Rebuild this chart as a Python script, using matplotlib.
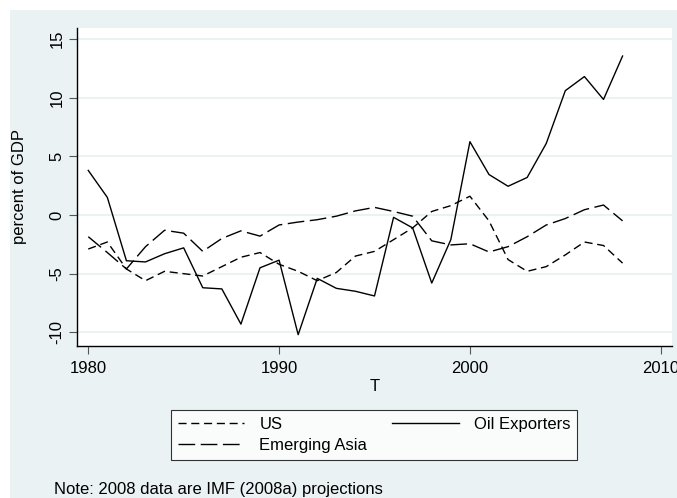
import matplotlib
matplotlib.use("Agg")
import matplotlib.pyplot as plt
import numpy as np

years = list(range(1980, 2009))

us = [-2.9, -2.3, -4.6, -5.6, -4.8, -5.0, -5.2, -4.4, -3.6, -3.2,
      -4.2, -4.8, -5.6, -4.9, -3.5, -3.1, -2.1, -1.1, 0.3, 0.8,
      1.6, -0.5, -3.8, -4.8, -4.4, -3.4, -2.3, -2.6, -4.1]

emerging_asia = [-1.85, -3.2, -4.6, -2.7, -1.3, -1.55, -3.1, -2.0, -1.35, -1.8,
                 -0.85, -0.6, -0.4, -0.1, 0.35, 0.65, 0.3, -0.1, -2.2, -2.55,
                 -2.45, -3.15, -2.7, -1.85, -0.85, -0.3, 0.45, 0.85, -0.5]

oil_exporters = [3.8, 1.5, -3.9, -4.0, -3.3, -2.8, -6.2, -6.3, -9.3, -4.5,
                 -3.85, -10.2, -5.4, -6.25, -6.5, -6.9, -0.2, -1.1, -5.8, -2.1,
                 6.25, 3.45, 2.45, 3.2, 6.1, 10.6, 11.8, 9.85, 13.55]

y_ticks = [-10, -5, 0, 5, 10, 15]
x_ticks = [1980, 1990, 2000, 2010]

bg = "#eaf2f3"
W, H = 677, 498

plt.rcParams["font.family"] = ["Liberation Sans", "DejaVu Sans"]
plt.rcParams["lines.scale_dashes"] = False

fig = plt.figure(figsize=(W / 100, H / 100), dpi=100, facecolor="white")
# outer grey panel (the top/left white strip is from the cropped original)
fig.patches.append(plt.Rectangle((10 / W, 0), 1, 1 - 10 / H, transform=fig.transFigure,
                                 facecolor=bg, edgecolor="none", zorder=-5))

ax = fig.add_axes([77 / W, 1 - 345.7 / H, (672 - 77) / W, (345.7 - 28) / H])
ax.set_facecolor("white")

ax.plot(years, us, color="black", lw=1.0, dashes=(5.8, 3.4), label="US")
ax.plot(years, emerging_asia, color="black", lw=1.0, dashes=(12, 4), label="Emerging Asia")
ax.plot(years, oil_exporters, color="black", lw=1.0, label="Oil Exporters")

ax.set_xlim(1979.41, 2010.59)
ax.set_ylim(-11.14, 15.94)
ax.set_xticks(x_ticks)
ax.set_yticks(y_ticks)
ax.set_yticklabels([str(t) for t in y_ticks], rotation=90, va="center")
ax.tick_params(axis="both", direction="out", length=6, width=0.8, color="#555555",
               labelsize=12, pad=3)
ax.tick_params(axis="x", pad=5)
ax.grid(axis="y", color=bg, lw=1.5)
ax.set_axisbelow(True)

for side in ["top", "right"]:
    ax.spines[side].set_visible(False)
ax.spines["left"].set_linewidth(1.0)
ax.spines["bottom"].set_linewidth(1.0)

ax.set_xlabel("T", fontsize=12, labelpad=2)
fig.text(20 / W, 1 - 187 / H, "percent of GDP", rotation=90, ha="center", va="center",
         fontsize=12)

handles, labels = ax.get_legend_handles_labels()
order = [0, 1, 2]
leg = fig.legend([handles[i] for i in order], [labels[i] for i in order],
                 loc="upper center", bbox_to_anchor=(374 / W, 1 - 402 / H), ncol=2,
                 fontsize=12, frameon=True, fancybox=False, edgecolor="black",
                 handlelength=4.0, handletextpad=0.9, columnspacing=1.5,
                 borderpad=0.4, labelspacing=0.35)
leg.get_frame().set_linewidth(0.8)

fig.text(54 / W, 1 - 489 / H, "Note: 2008 data are IMF (2008a) projections",
         ha="left", va="center", fontsize=12)

fig.savefig("out.png", dpi=100, facecolor="white")
